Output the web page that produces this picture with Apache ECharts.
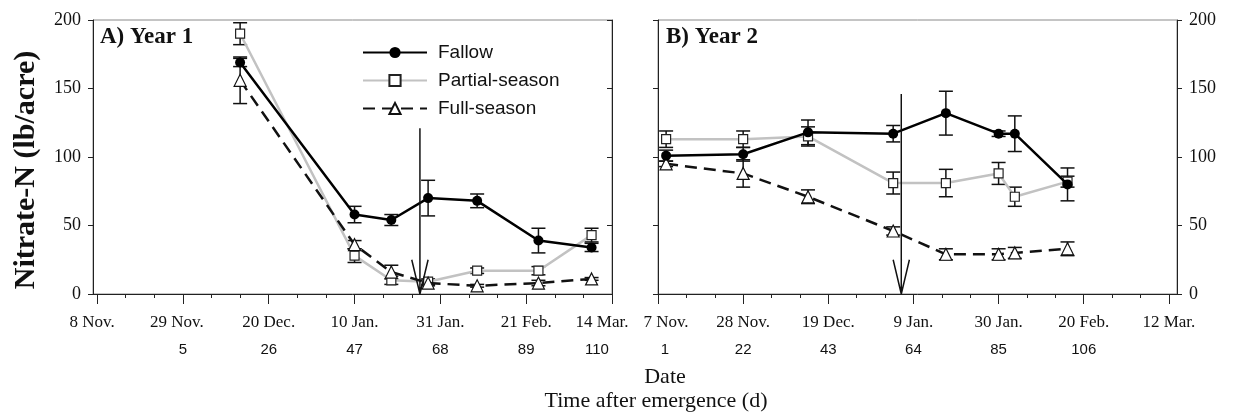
<!DOCTYPE html>
<html>
<head>
<meta charset="utf-8">
<script src="https://cdn.jsdelivr.net/npm/echarts@6/dist/echarts.min.js"></script>
<style>
  html, body { margin: 0; padding: 0; background: #fff; }
  #main { width: 1234px; height: 418px; }
</style>
</head>
<body>
<div id="main"></div>
<script>
// Year 1, x = days after emergence
var days1 = [19, 47, 56, 65, 77, 92, 105];
var fallow1 = [169, 58, 54, 70, 68, 39, 34];
var fallow1Err = [3, 6, 4, 13, 5, 9, 3];
var partial1 = [190, 28, 10, 9, 17, 17, 43];
var partial1Err = [8, 5, 3, 2, 2, 3, 5];
var full1 = [156, 36, 16, 8, 6, 8, 11];
var full1Err = [17, 3, 5, 2, 1, 2, 1];

// Year 2
var days2 = [3, 22, 38, 59, 72, 85, 89, 102];
var fallow2 = [101, 102, 118, 117, 132, 117, 117, 80];
var fallow2Err = [4, 5, 9, 6, 16, 2, 13, 12];
var partial2 = [113, 113, 115, 81, 81, 88, 71, 82];
var partial2Err = [6, 6, 7, 8, 10, 8, 7, 4];
var full2 = [95, 88, 71, 46, 29, 29, 30, 33];
var full2Err = [2, 10, 5, 3, 4, 4, 4, 5];

// tick labels
var tickDays1 = [-16, 5, 26, 47, 68, 89, 110];
var dateLabels1 = ["8 Nov.", "29 Nov.", "20 Dec.", "10 Jan.", "31 Jan.", "21 Feb.", "14 Mar."];
var dayLabels1 = ["", "5", "26", "47", "68", "89", "110"];
var tickDays2 = [1, 22, 43, 64, 85, 106, 127];
var dateLabels2 = ["7 Nov.", "28 Nov.", "19 Dec.", "9 Jan.", "30 Jan.", "20 Feb.", "12 Mar."];
var dayLabels2 = ["1", "22", "43", "64", "85", "106", ""];

// arrows (day, top value)
var arrow1 = [63, 121];
var arrow2 = [61, 146];

var serif = "Liberation Serif";
var sans = "Liberation Sans";

function pairs(xs, ys) {
  return xs.map(function (x, i) { return [x, ys[i]]; });
}
function errs(xs, ys, es) {
  return xs.map(function (x, i) { return [x, ys[i] - es[i], ys[i] + es[i]]; });
}
function minors(ticks) {
  var out = [];
  ticks.forEach(function (t, i) {
    if (i < ticks.length - 1) out.push(t + 7, t + 14);
  });
  return out;
}
function arrowPath(a) {
  return [[a[0], a[1]], [a[0], 0], [a[0] - 2, 25], [a[0], 0], [a[0] + 2, 25]];
}

function errorBar(params, api) {
  var x = api.value(0);
  var p1 = api.coord([x, api.value(1)]);
  var p2 = api.coord([x, api.value(2)]);
  var w = 7;
  var st = { stroke: "#111", lineWidth: 1.5 };
  return {
    type: "group",
    children: [
      { type: "line", shape: { x1: p1[0], y1: p1[1], x2: p2[0], y2: p2[1] }, style: st },
      { type: "line", shape: { x1: p1[0] - w, y1: p1[1], x2: p1[0] + w, y2: p1[1] }, style: st },
      { type: "line", shape: { x1: p2[0] - w, y1: p2[1], x2: p2[0] + w, y2: p2[1] }, style: st },
    ],
  };
}

// end labels are nudged sideways like in the original (negative = left)
var dateShift1 = { "-16": -5, "5": -6, "110": -10 };
var dateShift2 = { "1": 8 };
var dayShift1 = { "110": -15 };
var dayShift2 = { "1": 7 };

function richShifts(font, size) {
  var r = {};
  [5, 6, 7, 8, 10, 15].forEach(function (d) {
    r["nl" + d] = { padding: [0, 2 * d, 0, 0], fontFamily: font, fontSize: size, color: "#111" };
    r["nr" + d] = { padding: [0, 0, 0, 2 * d], fontFamily: font, fontSize: size, color: "#111" };
  });
  return r;
}
function labelFmt(ticks, labels, shifts) {
  return function (v) {
    var t = labels[ticks.indexOf(v)];
    var s = shifts[String(v)];
    return s ? "{n" + (s < 0 ? "l" : "r") + Math.abs(s) + "|" + t + "}" : t;
  };
}
function dateAxis(grid, min, max, ticks, labels, shifts) {
  return {
    type: "value", gridIndex: grid, min: min, max: max, position: "bottom",
    axisLine: { show: true, onZero: false, lineStyle: { color: "#222", width: 1 } },
    axisTick: { show: true, customValues: ticks, length: 10, lineStyle: { color: "#222" } },
    axisLabel: {
      customValues: ticks, margin: 20, fontFamily: serif, fontSize: 17, color: "#111",
      formatter: labelFmt(ticks, labels, shifts),
      rich: richShifts(serif, 17),
    },
    splitLine: { show: false },
  };
}
function dayAxis(grid, min, max, ticks, labels, shifts) {
  return {
    type: "value", gridIndex: grid, min: min, max: max, position: "bottom",
    axisLine: { show: false, onZero: false },
    axisTick: { show: true, customValues: minors(ticks), length: 4, lineStyle: { color: "#222" } },
    axisLabel: {
      customValues: ticks, margin: 48, fontFamily: sans, fontSize: 15, color: "#111",
      formatter: labelFmt(ticks, labels, shifts),
      rich: richShifts(sans, 15),
    },
    splitLine: { show: false },
  };
}
function yAxisDef(grid, pos, labels, inside) {
  return {
    type: "value", gridIndex: grid, position: pos, min: 0, max: 200, interval: 50,
    axisLine: { show: true, onZero: false, lineStyle: { color: "#222", width: 1 } },
    axisTick: { show: true, inside: inside, length: 5, lineStyle: { color: "#222" } },
    axisLabel: { show: labels, margin: 12, fontFamily: serif, fontSize: 18, color: "#111" },
    splitLine: { show: false },
  };
}

function makeSeries(xi, yi, days, f, fe, p, pe, u, ue, arrow) {
  var ax = { xAxisIndex: xi, yAxisIndex: yi };
  return [
    Object.assign({ type: "custom", renderItem: errorBar, data: errs(days, p, pe), z: 2, silent: true }, ax),
    Object.assign({ type: "custom", renderItem: errorBar, data: errs(days, u, ue), z: 2, silent: true }, ax),
    Object.assign({ type: "custom", renderItem: errorBar, data: errs(days, f, fe), z: 2, silent: true }, ax),
    Object.assign({
      name: "Partial-season", type: "line", data: pairs(days, p), z: 3,
      symbol: "rect", symbolSize: 9,
      lineStyle: { color: "#c2c2c2", width: 2.5 },
      itemStyle: { color: "#fff", borderColor: "#222", borderWidth: 1.2 },
    }, ax),
    Object.assign({
      name: "Full-season", type: "line", data: pairs(days, u), z: 4,
      symbol: "triangle", symbolSize: 12,
      lineStyle: { color: "#111", width: 2.5, type: [12, 7] },
      itemStyle: { color: "#fff", borderColor: "#111", borderWidth: 1.2 },
    }, ax),
    Object.assign({
      name: "Fallow", type: "line", data: pairs(days, f), z: 5,
      symbol: "circle", symbolSize: 10,
      lineStyle: { color: "#000", width: 2.5 },
      itemStyle: { color: "#000" },
    }, ax),
    Object.assign({
      name: "arrow", type: "line", data: arrowPath(arrow), z: 6, symbol: "none", silent: true,
      lineStyle: { color: "#111", width: 1.5 },
    }, ax),
  ];
}

var myChart = echarts.init(document.getElementById("main"));
var option = {
  animation: false,
  backgroundColor: "#fff",
  grid: [
    { left: 93, top: 20, width: 519, height: 274, show: true, borderColor: "#8a8a8a", borderWidth: 1 },
    { left: 658, top: 20, width: 519, height: 274, show: true, borderColor: "#8a8a8a", borderWidth: 1 },
  ],
  xAxis: [
    dateAxis(0, -17, 110, tickDays1, dateLabels1, dateShift1),
    dayAxis(0, -17, 110, tickDays1, dayLabels1, dayShift1),
    dateAxis(1, 1, 129, tickDays2, dateLabels2, dateShift2),
    dayAxis(1, 1, 129, tickDays2, dayLabels2, dayShift2),
  ],
  yAxis: [
    yAxisDef(0, "left", true, false),
    yAxisDef(0, "right", false, true),
    yAxisDef(1, "right", true, false),
    yAxisDef(1, "left", false, false),
  ],
  legend: {
    data: ["Fallow", "Partial-season", "Full-season"],
    orient: "vertical",
    left: 357, top: 38,
    itemWidth: 64, itemHeight: 14, itemGap: 9,
    textStyle: { fontFamily: sans, fontSize: 19, color: "#111", padding: [0, 0, 0, 6] },
  },
  graphic: [
    { type: "text", x: 100, y: 26, style: { text: "A) Year 1", font: "bold 23px " + serif, fill: "#111" } },
    { type: "text", x: 666, y: 26, style: { text: "B) Year 2", font: "bold 23px " + serif, fill: "#111" } },
    { type: "text", x: 26, y: 170, rotation: Math.PI / 2,
      style: { text: "Nitrate-N (lb/acre)", font: "bold 30px " + serif, fill: "#111", align: "center", verticalAlign: "middle" } },
    { type: "text", x: 665, y: 377,
      style: { text: "Date", font: "22px " + serif, fill: "#111", align: "center", verticalAlign: "middle" } },
    { type: "text", x: 656, y: 401,
      style: { text: "Time after emergence (d)", font: "22px " + serif, fill: "#111", align: "center", verticalAlign: "middle" } },
  ],
  series: makeSeries(0, 0, days1, fallow1, fallow1Err, partial1, partial1Err, full1, full1Err, arrow1)
    .concat(makeSeries(2, 2, days2, fallow2, fallow2Err, partial2, partial2Err, full2, full2Err, arrow2)),
};
myChart.setOption(option);
</script>
</body>
</html>
